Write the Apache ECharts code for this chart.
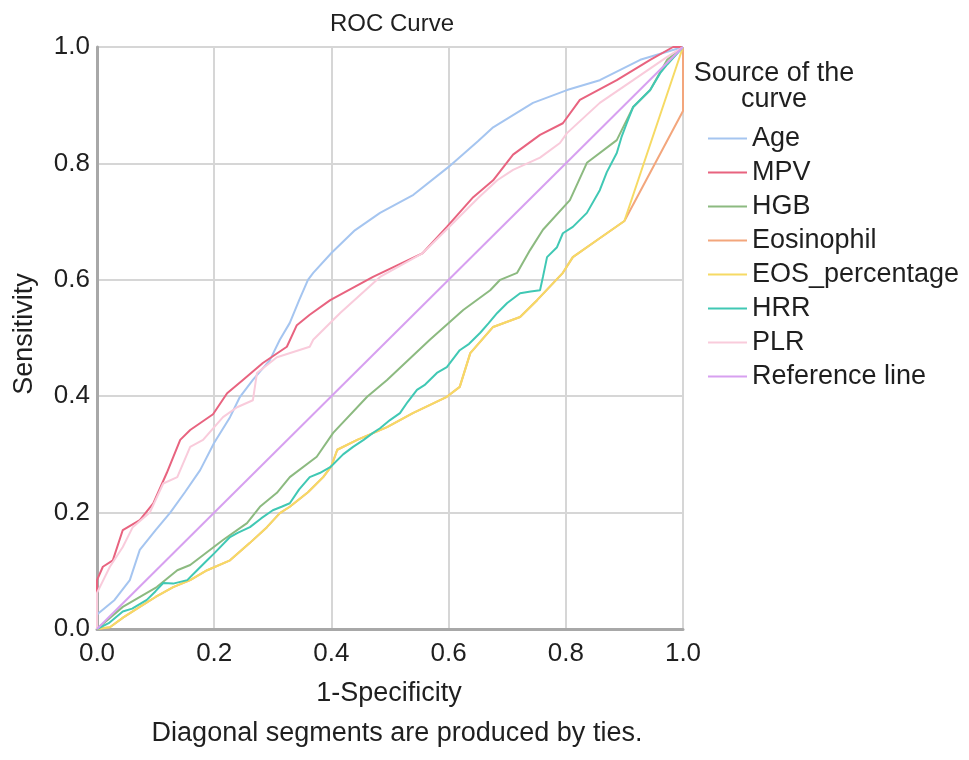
<!DOCTYPE html>
<html>
<head>
<meta charset="utf-8">
<script src="https://cdn.jsdelivr.net/npm/echarts@6/dist/echarts.min.js"></script>
<style>
  html, body { margin: 0; padding: 0; background: #fff; }
  #chart { width: 969px; height: 760px; }
</style>
</head>
<body>
<div id="chart"></div>
<script>
// ROC curves, [1-specificity, sensitivity]
const ageCurve = [[0,0],[0,0.025],[0.03,0.05],[0.056,0.084],[0.073,0.136],[0.1,0.17],[0.125,0.2],[0.15,0.235],[0.176,0.273],[0.2,0.32],[0.227,0.364],[0.244,0.399],[0.266,0.428],[0.295,0.462],[0.312,0.497],[0.329,0.526],[0.345,0.565],[0.36,0.6],[0.369,0.612],[0.4,0.646],[0.44,0.685],[0.483,0.715],[0.54,0.746],[0.6,0.794],[0.65,0.838],[0.676,0.862],[0.744,0.904],[0.802,0.926],[0.858,0.943],[0.927,0.978],[1,1]];
const mpvCurve = [[0,0],[0,0.084],[0.01,0.107],[0.027,0.118],[0.044,0.17],[0.073,0.187],[0.096,0.216],[0.119,0.268],[0.142,0.325],[0.159,0.342],[0.198,0.369],[0.222,0.405],[0.249,0.428],[0.283,0.457],[0.324,0.485],[0.341,0.522],[0.363,0.54],[0.398,0.565],[0.471,0.605],[0.556,0.646],[0.597,0.691],[0.642,0.742],[0.676,0.771],[0.71,0.815],[0.756,0.849],[0.795,0.869],[0.824,0.909],[0.887,0.943],[0.944,0.978],[0.983,1],[1,1]];
const hgbCurve = [[0,0],[0.044,0.038],[0.102,0.072],[0.137,0.101],[0.159,0.11],[0.215,0.153],[0.256,0.182],[0.278,0.21],[0.307,0.234],[0.329,0.261],[0.375,0.296],[0.403,0.337],[0.461,0.399],[0.495,0.428],[0.568,0.497],[0.625,0.548],[0.671,0.582],[0.688,0.6],[0.717,0.612],[0.739,0.651],[0.761,0.686],[0.807,0.737],[0.836,0.801],[0.887,0.84],[0.915,0.897],[0.944,0.926],[0.973,0.978],[1,1]];
const eosCurve = [[0,0],[0.022,0.003],[0.045,0.02],[0.073,0.038],[0.1,0.055],[0.13,0.072],[0.159,0.084],[0.188,0.101],[0.227,0.118],[0.261,0.148],[0.29,0.175],[0.312,0.199],[0.329,0.21],[0.36,0.235],[0.386,0.261],[0.4,0.28],[0.41,0.308],[0.444,0.325],[0.495,0.347],[0.539,0.371],[0.597,0.399],[0.619,0.416],[0.637,0.474],[0.676,0.519],[0.722,0.536],[0.751,0.565],[0.795,0.612],[0.812,0.639],[0.853,0.668],[0.9,0.701],[1,0.89],[1,1]];
const eosPctCurve = [[0,0],[0.022,0.003],[0.045,0.02],[0.073,0.038],[0.1,0.055],[0.13,0.072],[0.159,0.084],[0.188,0.101],[0.227,0.118],[0.261,0.148],[0.29,0.175],[0.312,0.199],[0.329,0.21],[0.36,0.235],[0.386,0.261],[0.4,0.28],[0.41,0.308],[0.444,0.325],[0.495,0.347],[0.539,0.371],[0.597,0.399],[0.619,0.416],[0.637,0.474],[0.676,0.519],[0.722,0.536],[0.751,0.565],[0.795,0.612],[0.812,0.639],[0.853,0.668],[0.9,0.701],[1,1]];
const hrrCurve = [[0,0],[0.02,0.01],[0.044,0.03],[0.06,0.035],[0.085,0.05],[0.1,0.065],[0.113,0.079],[0.13,0.078],[0.154,0.084],[0.17,0.1],[0.188,0.118],[0.2,0.13],[0.227,0.158],[0.24,0.165],[0.261,0.175],[0.28,0.19],[0.3,0.204],[0.315,0.21],[0.329,0.216],[0.345,0.24],[0.363,0.261],[0.38,0.268],[0.398,0.278],[0.42,0.3],[0.437,0.313],[0.455,0.325],[0.471,0.337],[0.483,0.345],[0.5,0.359],[0.517,0.371],[0.53,0.39],[0.546,0.411],[0.56,0.42],[0.58,0.44],[0.597,0.45],[0.619,0.479],[0.635,0.49],[0.654,0.509],[0.668,0.525],[0.683,0.543],[0.7,0.56],[0.722,0.577],[0.74,0.58],[0.756,0.582],[0.761,0.605],[0.768,0.639],[0.785,0.656],[0.795,0.68],[0.812,0.691],[0.836,0.715],[0.858,0.754],[0.87,0.785],[0.887,0.818],[0.895,0.845],[0.904,0.869],[0.915,0.897],[0.944,0.926],[0.961,0.955],[0.973,0.97],[1,1]];
const plrCurve = [[0,0],[0,0.062],[0.022,0.107],[0.044,0.141],[0.061,0.175],[0.09,0.2],[0.113,0.25],[0.137,0.261],[0.159,0.313],[0.181,0.325],[0.215,0.364],[0.239,0.381],[0.266,0.393],[0.273,0.44],[0.307,0.467],[0.363,0.485],[0.369,0.497],[0.415,0.543],[0.483,0.605],[0.556,0.646],[0.6,0.69],[0.65,0.74],[0.683,0.771],[0.71,0.789],[0.756,0.81],[0.79,0.835],[0.802,0.852],[0.858,0.904],[0.915,0.943],[0.973,0.983],[1,1]];
const refLine = [[0,0],[1,1]];

const seriesNames = ['Age', 'MPV', 'HGB', 'Eosinophil', 'EOS_percentage', 'HRR', 'PLR', 'Reference line'];
const seriesData = [ageCurve, mpvCurve, hgbCurve, eosCurve, eosPctCurve, hrrCurve, plrCurve, refLine];
const seriesColors = ['#a5c5f0', '#e8637f', '#8cba80', '#f3a67c', '#f6da64', '#40c8b4', '#f9cbdb', '#d7a0f0'];
const axisTicks = [0, 0.2, 0.4, 0.6, 0.8, 1.0];

const FONT = '"Liberation Sans", Arial, Helvetica, sans-serif';
const TXT = '#1f1f1f';

var chart = echarts.init(document.getElementById('chart'));

var seriesArr = [];
seriesNames.forEach(function (name, i) {
    seriesArr.push({
        name: name,
        type: 'line',
        data: seriesData[i],
        showSymbol: false,
        symbol: 'none',
        smooth: false,
        color: seriesColors[i],
        lineStyle: {width: 2, color: seriesColors[i]},
        emphasis: {disabled: true}
    });
});

var axisCommon = {
    type: 'value',
    min: axisTicks[0],
    max: axisTicks[axisTicks.length - 1],
    interval: 0.2,
    axisTick: {show: false},
    splitLine: {show: true, lineStyle: {color: '#d6d6d6', width: 2}},
    axisLine: {show: true, onZero: false, lineStyle: {color: '#a8a8a8', width: 3}},
    axisLabel: {
        color: TXT, fontFamily: FONT, fontSize: 26,
        formatter: function (v) { return v.toFixed(1); }
    }
};

function label(text, x, y, size) {
    return {type: 'text', style: {text: text, x: x, y: y, align: 'center', verticalAlign: 'middle', fontSize: size, fontFamily: FONT, fill: TXT}};
}

var yTitle = label('Sensitivity', 0, 0, 27);
yTitle.x = 25;
yTitle.y = 334;
yTitle.rotation = Math.PI / 2;

var option = {
    animation: false,
    backgroundColor: '#fff',
    grid: {left: 97, right: 286, top: 47, bottom: 131},
    xAxis: Object.assign({}, axisCommon, {
        axisLabel: Object.assign({}, axisCommon.axisLabel, {margin: 12})
    }),
    yAxis: Object.assign({}, axisCommon, {
        axisLabel: Object.assign({}, axisCommon.axisLabel, {margin: 7})
    }),
    legend: {
        orient: 'vertical',
        left: 703,
        top: 120,
        itemWidth: 39,
        itemHeight: 2,
        itemGap: 7,
        icon: 'rect',
        selectedMode: false,
        data: seriesNames,
        textStyle: {color: TXT, fontFamily: FONT, fontSize: 27, lineHeight: 27, padding: [0, 0, 0, 0]}
    },
    graphic: [
        label('ROC Curve', 392, 24, 24),
        label('Source of the', 774, 74, 27),
        label('curve', 774, 100, 27),
        yTitle,
        label('1-Specificity', 389, 694, 27),
        label('Diagonal segments are produced by ties.', 397, 734, 27)
    ],
    series: seriesArr
};

chart.setOption(option);
</script>
</body>
</html>
